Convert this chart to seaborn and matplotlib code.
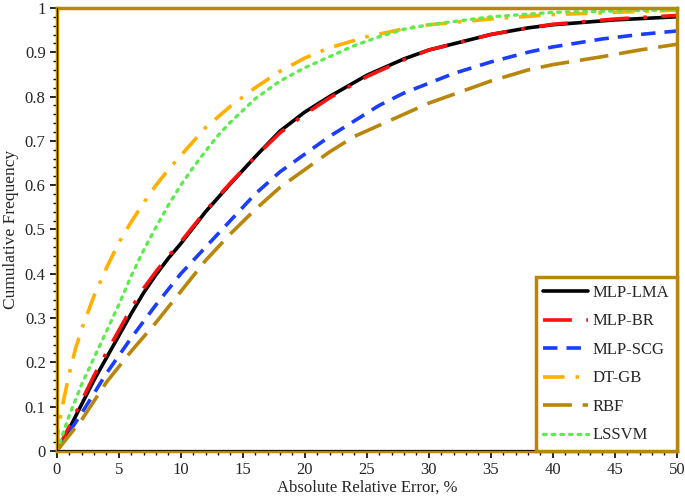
import matplotlib
matplotlib.use("Agg")
import matplotlib.pyplot as plt
import seaborn as sns
import pandas as pd
from matplotlib.ticker import MultipleLocator, FuncFormatter

# values (x = absolute relative error %, y = cumulative frequency)
x_lma = [0, 1, 2, 3, 4, 5, 6, 7, 8, 9, 10, 12, 14, 16, 18, 20, 22, 25, 28, 30, 35, 38, 40, 45, 50]
y_lma = [0, 0.05, 0.105, 0.16, 0.21, 0.26, 0.31, 0.357, 0.398, 0.435, 0.468, 0.54, 0.603, 0.664,
         0.722, 0.765, 0.80, 0.848, 0.885, 0.905, 0.94, 0.955, 0.962, 0.973, 0.98]

x_br = [0, 1, 2, 3, 4, 5, 6, 7, 8, 9, 10, 12, 14, 16, 18, 20, 22, 25, 28, 30, 35, 38, 40, 45, 50]
y_br = [0, 0.055, 0.113, 0.17, 0.222, 0.272, 0.322, 0.367, 0.405, 0.44, 0.472, 0.542, 0.605, 0.664,
        0.718, 0.76, 0.797, 0.845, 0.883, 0.905, 0.94, 0.955, 0.963, 0.975, 0.983]

x_scg = [0, 2, 4, 5, 6, 8, 10, 12, 14, 16, 18, 20, 22, 24, 26, 28, 30, 32, 35, 38, 40, 44, 47, 50]
y_scg = [0, 0.085, 0.175, 0.215, 0.255, 0.33, 0.40, 0.46, 0.52, 0.58, 0.63, 0.67, 0.71, 0.745,
         0.78, 0.808, 0.83, 0.852, 0.878, 0.90, 0.912, 0.93, 0.94, 0.948]

x_dtgb = [0, 0.1, 0.4, 1, 1.5, 2, 3, 4, 5, 6, 7, 8, 9, 10, 12, 14, 16, 18, 20, 22, 25, 28, 30, 35,
          40, 45, 50]
y_dtgb = [0, 0.045, 0.095, 0.175, 0.23, 0.275, 0.35, 0.413, 0.47, 0.517, 0.56, 0.60, 0.635, 0.667,
          0.73, 0.778, 0.82, 0.857, 0.887, 0.91, 0.935, 0.953, 0.962, 0.975, 0.985, 0.99, 0.995]

x_rbf = [0, 2, 4, 6, 8, 10, 12, 14, 16, 18, 20, 22, 24, 26, 28, 30, 32, 35, 38, 40, 44, 47, 50]
y_rbf = [0, 0.07, 0.155, 0.225, 0.29, 0.36, 0.43, 0.49, 0.545, 0.595, 0.635, 0.675, 0.71, 0.735,
         0.76, 0.785, 0.805, 0.835, 0.86, 0.872, 0.89, 0.905, 0.918]

x_lssvm = [0, 1, 2, 3, 4, 5, 6, 7, 8, 9, 10, 11, 12, 13, 14, 16, 18, 20, 22, 24, 26, 28, 30, 35,
           40, 45, 50]
y_lssvm = [0, 0.08, 0.15, 0.21, 0.27, 0.33, 0.395, 0.453, 0.505, 0.555, 0.60, 0.64, 0.677, 0.712,
           0.742, 0.795, 0.835, 0.865, 0.89, 0.915, 0.935, 0.952, 0.962, 0.98, 0.99, 0.993, 0.996]

modelos = ["MLP-LMA", "MLP-BR", "MLP-SCG", "DT-GB", "RBF", "LSSVM"]
dados = {"MLP-LMA": (x_lma, y_lma), "MLP-BR": (x_br, y_br), "MLP-SCG": (x_scg, y_scg),
         "DT-GB": (x_dtgb, y_dtgb), "RBF": (x_rbf, y_rbf), "LSSVM": (x_lssvm, y_lssvm)}

# estilo de cada curva
cores = {"MLP-LMA": "#000000", "MLP-BR": "#FF1010", "MLP-SCG": "#1A3DFF",
         "DT-GB": "#FFB000", "RBF": "#B8860B", "LSSVM": "#5EEB4E"}
estilos = {"MLP-LMA": "-", "MLP-BR": (0, (8, 4, 1, 4)), "MLP-SCG": (0, (4, 2.5)),
           "DT-GB": (0, (6, 3, 1, 3)), "RBF": (0, (8, 3)), "LSSVM": (0, (0.8, 1.8))}

linhas = []
for m in modelos:
    xs, ys = dados[m]
    for a, b in zip(xs, ys):
        linhas.append({"Modelo": m, "ARE": a, "CF": b})
df = pd.DataFrame(linhas)

sns.set_theme(style="white")
plt.rcParams["font.family"] = ["Liberation Serif", "DejaVu Serif"]

dourado = "#B8860B"
fig = plt.figure(figsize=(6.85, 4.96), dpi=100)
ax = fig.add_axes([0.083, 0.091, 0.905, 0.893])

for m in modelos:
    sns.lineplot(data=df[df["Modelo"] == m], x="ARE", y="CF", ax=ax, color=cores[m],
                 linestyle=estilos[m], linewidth=2.6 if m != "LSSVM" else 2.4,
                 label=m, dash_capstyle="round" if m == "LSSVM" else "butt")

ax.set_xlim(0, 50)
ax.set_ylim(0, 1)
ax.xaxis.set_major_locator(MultipleLocator(5))
ax.xaxis.set_minor_locator(MultipleLocator(1))
ax.yaxis.set_major_locator(MultipleLocator(0.1))
ax.yaxis.set_minor_locator(MultipleLocator(0.02))
ax.yaxis.set_major_formatter(FuncFormatter(lambda v, p: f"{v:g}"))
ax.tick_params(which="major", direction="out", length=5, width=1.2, color="black",
               labelsize=12, bottom=True, left=True, pad=3)
ax.tick_params(which="minor", direction="out", length=3, width=1, color="black",
               bottom=True, left=True)

for lado in ax.spines.values():
    lado.set_color(dourado)
    lado.set_linewidth(2.5)
ax.axvline(0, color="black", lw=1.2, zorder=5)
ax.axhline(0, color="black", lw=1.2, zorder=5)

ax.set_xlabel("Absolute Relative Error, %", fontsize=12, labelpad=1)
ax.set_ylabel("Cumulative Frequency", fontsize=12.5, labelpad=4)

leg = ax.legend(loc="lower right", borderaxespad=0, fontsize=12, handlelength=2.7,
                labelspacing=0.75, fancybox=False, framealpha=1, borderpad=0.45,
                handletextpad=0.25)
leg.get_frame().set_edgecolor(dourado)
leg.get_frame().set_linewidth(2.5)

fig.savefig("out.png", dpi=100)
